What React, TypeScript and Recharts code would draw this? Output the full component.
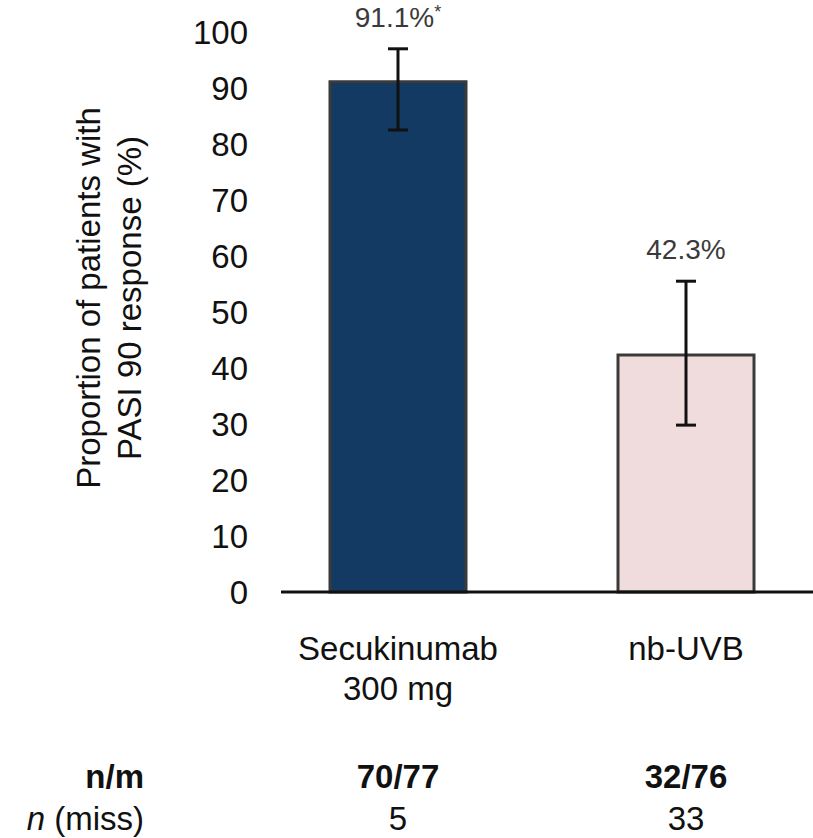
import React from 'react';
import { BarChart, Bar, XAxis, YAxis, ErrorBar, Cell, LabelList } from 'recharts';

const groupNames = ['Secukinumab 300 mg', 'nb-UVB'];
const groupLines = [['Secukinumab', '300 mg'], ['nb-UVB']];
const responseRates = [91.1, 42.3];
const ciBelow = [8.6, 12.5];
const ciAbove = [5.9, 13.2];
const significance = ['*', ''];
const nOverM = ['70/77', '32/76'];
const nMissing = ['5', '33'];
const yTicks = [0, 10, 20, 30, 40, 50, 60, 70, 80, 90, 100];
const barColors = ['#133a62', '#f0dcdd'];

const FONT = '"Liberation Sans", Arial, sans-serif';

const data = groupNames.map((name, i) => ({
  name,
  rate: responseRates[i],
  err: [ciBelow[i], ciAbove[i]],
}));

const GroupTick = (props: any) => {
  const { x, y, index } = props;
  const lines = groupLines[index] || [];
  return (
    <g>
      {lines.map((line, i) => (
        <text key={i} x={x} y={y + 68 + i * 40} textAnchor="middle" fontSize={33} fill="#111" fontFamily={FONT}>
          {line}
        </text>
      ))}
      <text x={x} y={y + 196} textAnchor="middle" fontSize={33} fontWeight="bold" fill="#111" fontFamily={FONT}>
        {nOverM[index]}
      </text>
      <text x={x} y={y + 238} textAnchor="middle" fontSize={33} fill="#111" fontFamily={FONT}>
        {nMissing[index]}
      </text>
    </g>
  );
};

const RowHeaders = (props: any) => {
  const { viewBox } = props;
  const rx = viewBox.x - 137;
  const y = viewBox.y;
  return (
    <g fontFamily={FONT} fontSize={33} fill="#111">
      <text x={rx} y={y + 196} textAnchor="end" fontWeight="bold">n/m</text>
      <text x={rx} y={y + 238} textAnchor="end">
        <tspan fontStyle="italic">n</tspan> (miss)
      </text>
    </g>
  );
};

const YTitle = (props: any) => {
  const { viewBox } = props;
  const cy = viewBox.y + viewBox.height / 2 - 14;
  const x1 = viewBox.x + 100;
  const x2 = viewBox.x + 141;
  return (
    <g fontFamily={FONT} fontSize={33} fill="#111">
      <text x={x1} y={cy} textAnchor="middle" transform={`rotate(-90 ${x1} ${cy})`}>
        Proportion of patients with
      </text>
      <text x={x2} y={cy} textAnchor="middle" transform={`rotate(-90 ${x2} ${cy})`}>
        PASI 90 response (%)
      </text>
    </g>
  );
};

const RateLabel = (props: any) => {
  const { x, y, width, height, value, index } = props;
  const perUnit = height / value;
  const errTop = y - ciAbove[index] * perUnit;
  const cx = x + width / 2;
  return (
    <text x={cx} y={errTop - 22} textAnchor="middle" fontSize={28} fill="#3a3a3a" fontFamily={FONT}>
      {`${value}%`}
      {significance[index] && (
        <tspan fontSize={18} dy={-9}>{significance[index]}</tspan>
      )}
    </text>
  );
};

export default function App() {
  return (
    <div style={{ position: 'absolute', left: 0, top: 0, width: 813, height: 838, overflow: 'hidden', background: '#fff' }}>
      <BarChart width={813} height={838} data={data} margin={{ top: 32, right: 0, bottom: 0, left: 0 }}>
        <XAxis
          dataKey="name"
          height={246}
          padding={{ left: -27, right: -17 }}
          axisLine={{ stroke: '#111', strokeWidth: 3 }}
          tickLine={false}
          tickSize={0}
          tickMargin={0}
          tick={<GroupTick />}
          interval={0}
          label={<RowHeaders />}
        />
        <YAxis
          width={281}
          domain={[0, 100]}
          ticks={yTicks}
          axisLine={false}
          tickLine={false}
          tickSize={0}
          tickMargin={33}
          tick={{ fontSize: 33, fill: '#111', fontFamily: FONT }}
          label={<YTitle />}
        />
        <Bar dataKey="rate" barSize={136} stroke="#3a3a3a" strokeWidth={3} isAnimationActive={false}>
          {data.map((d, i) => (
            <Cell key={d.name} fill={barColors[i]} />
          ))}
          <ErrorBar dataKey="err" width={10} stroke="#111" strokeWidth={3} isAnimationActive={false} />
          <LabelList dataKey="rate" content={<RateLabel />} />
        </Bar>
      </BarChart>
    </div>
  );
}
